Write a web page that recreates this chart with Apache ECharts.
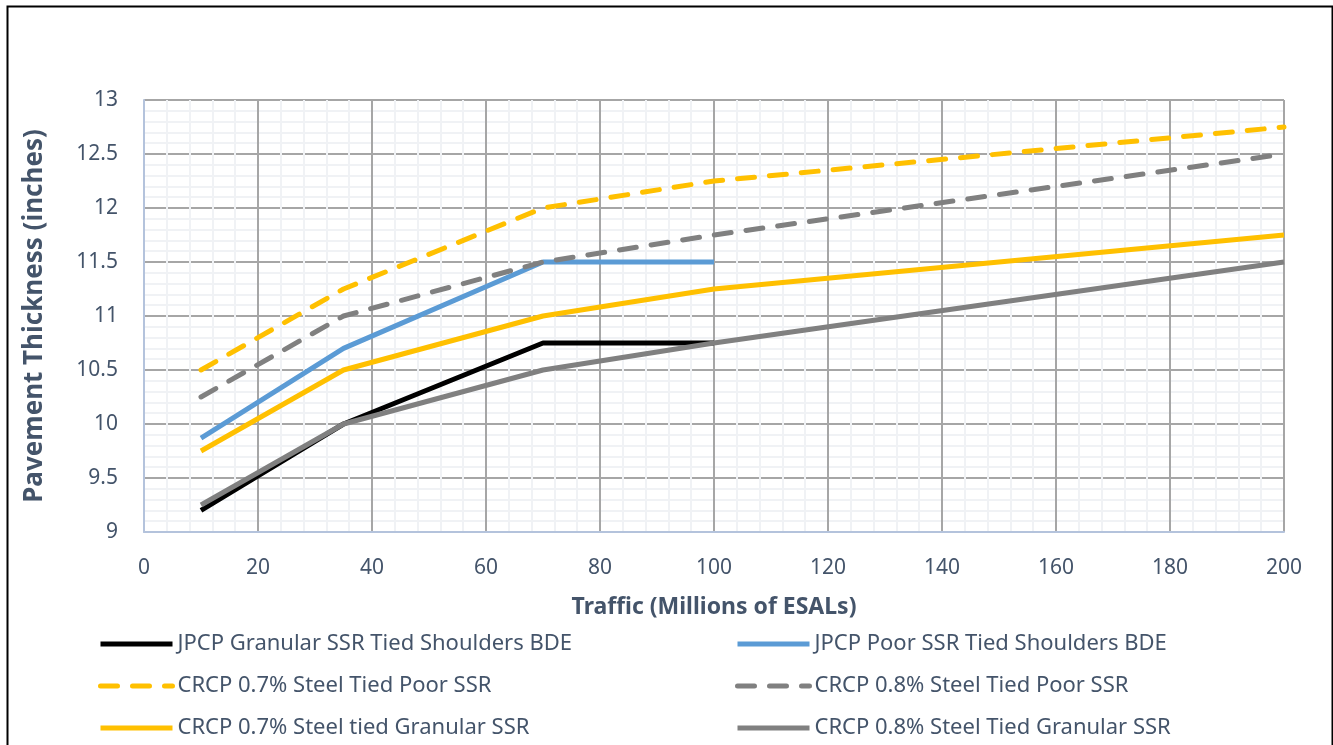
<!DOCTYPE html>
<html>
<head>
<meta charset="utf-8">
<script src="https://cdn.jsdelivr.net/npm/echarts@6/dist/echarts.min.js"></script>
<style>
html,body{margin:0;padding:0;background:#fff;}
#c{width:1333px;height:745px;}
</style>
</head>
<body>
<div id="c"></div>
<script>
const jpcpTraffic = [10, 35, 70, 100];
const crcpTraffic = [10, 35, 70, 100, 200];
const jpcpGranular = [9.2, 10, 10.75, 10.75];
const jpcpPoor = [9.87, 10.7, 11.5, 11.5];
const crcp07Poor = [10.5, 11.25, 12, 12.25, 12.75];
const crcp08Poor = [10.25, 11, 11.5, 11.75, 12.5];
const crcp07Granular = [9.75, 10.5, 11, 11.25, 11.75];
const crcp08Granular = [9.25, 10, 10.5, 10.75, 11.5];
const names = [
  'JPCP Granular SSR Tied Shoulders BDE',
  'JPCP Poor SSR Tied Shoulders BDE',
  'CRCP 0.7% Steel Tied Poor SSR',
  'CRCP 0.8% Steel Tied Poor SSR',
  'CRCP 0.7% Steel tied Granular SSR',
  'CRCP 0.8% Steel Tied Granular SSR'
];
const xTitle = 'Traffic (Millions of ESALs)';
const yTitle = 'Pavement Thickness (inches)';

function pairs(xs, ys){ return xs.map((x,i)=>[x, ys[i]]); }

const FONT = 'Noto Sans';
const TXT = '#44546a';

function ser(name, xs, ys, color, dashed){
  return {
    name: name, type: 'line', data: pairs(xs, ys), showSymbol: false, symbol: 'none',
    lineStyle: { color: color, width: 5, type: dashed ? [17, 15] : 'solid', cap: dashed ? 'round' : 'butt', join: 'round' },
    itemStyle: { color: color },
    animation: false
  };
}

const legendCommon = {
  orient: 'vertical', top: 633, height: 140, padding: 0,
  itemWidth: 72, itemHeight: 10, itemGap: 20,
  itemStyle: { opacity: 0 },
  lineStyle: { width: 5 },
  textStyle: { fontFamily: FONT, fontSize: 22, lineHeight: 22, color: TXT }
};

const chart = echarts.init(document.getElementById('c'));
chart.setOption({
  backgroundColor: '#fff',
  animation: false,
  graphic: [{
    type: 'rect', left: 5, top: 4, shape: { width: 1325, height: 760 },
    style: { fill: 'none', stroke: '#000', lineWidth: 2 }, silent: true
  }],
  grid: { left: 144, right: 49, top: 100, bottom: 213, containLabel: false },
  xAxis: {
    type: 'value', min: 0, max: 200, interval: 20,
    name: xTitle, nameLocation: 'middle', nameGap: 64,
    nameTextStyle: { fontFamily: FONT, fontSize: 23, fontWeight: 'bold', color: TXT },
    axisLine: { show: true, lineStyle: { color: '#b4c3dc', width: 2 } },
    axisTick: { show: false },
    axisLabel: { fontFamily: FONT, fontSize: 21, color: TXT, margin: 26 },
    splitLine: { show: true, lineStyle: { color: '#a6a6a6', width: 2 } },
    minorTick: { show: false, splitNumber: 5 },
    minorSplitLine: { show: true, lineStyle: { color: '#f0f2f5', width: 2 } }
  },
  yAxis: {
    type: 'value', min: 9, max: 13, interval: 0.5,
    name: yTitle, nameLocation: 'middle', nameGap: 96, nameRotate: 90,
    nameTextStyle: { fontFamily: FONT, fontSize: 26, fontWeight: 'bold', color: TXT },
    axisLine: { show: true, lineStyle: { color: '#b4c3dc', width: 2 } },
    axisTick: { show: false },
    axisLabel: { fontFamily: FONT, fontSize: 21, color: TXT, margin: 26 },
    splitLine: { show: true, lineStyle: { color: '#a6a6a6', width: 2 } },
    minorTick: { show: false, splitNumber: 5 },
    minorSplitLine: { show: true, lineStyle: { color: '#f0f2f5', width: 2 } }
  },
  legend: [
    Object.assign({}, legendCommon, { data: [names[0], names[2], names[4]], left: 98 }),
    Object.assign({}, legendCommon, { data: [names[1], names[3], names[5]], left: 735 })
  ],
  series: [
    ser(names[0], jpcpTraffic, jpcpGranular, '#000000', false),
    ser(names[1], jpcpTraffic, jpcpPoor, '#5b9bd5', false),
    ser(names[2], crcpTraffic, crcp07Poor, '#ffc000', true),
    ser(names[3], crcpTraffic, crcp08Poor, '#808080', true),
    ser(names[4], crcpTraffic, crcp07Granular, '#ffc000', false),
    ser(names[5], crcpTraffic, crcp08Granular, '#808080', false)
  ]
});
</script>
</body>
</html>
